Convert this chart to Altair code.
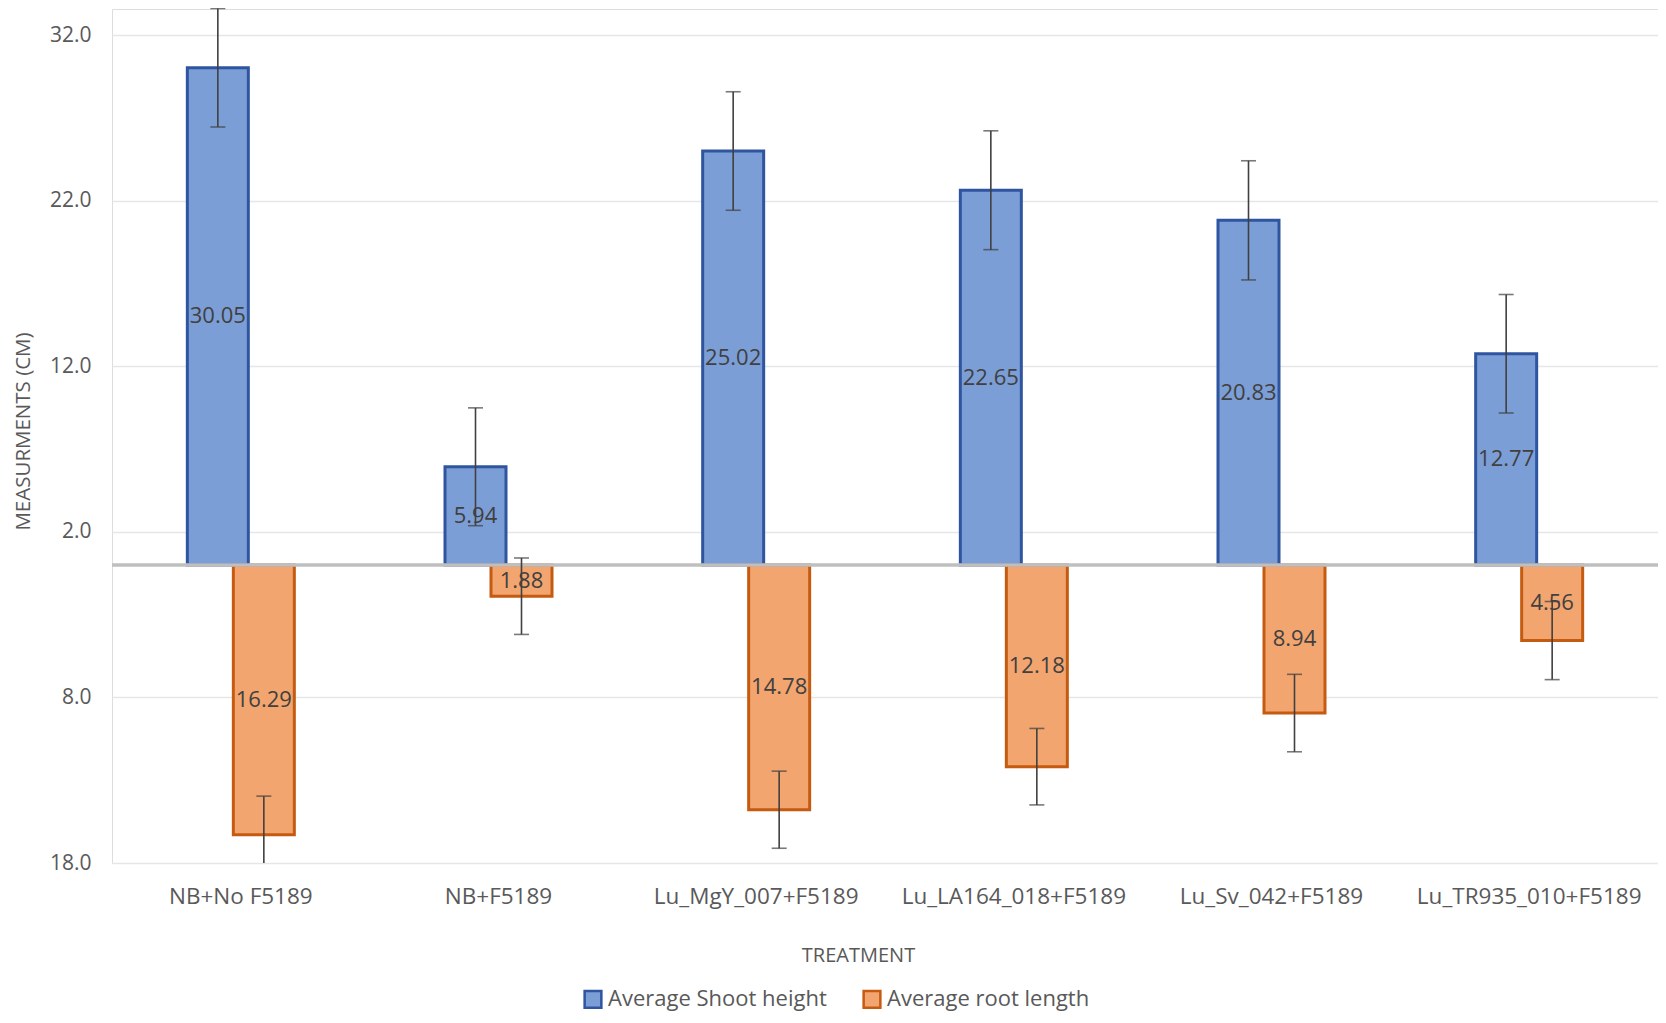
import altair as alt
import pandas as pd

FONT = "Open Sans"

categories = ["NB+No F5189", "NB+F5189", "Lu_MgY_007+F5189",
              "Lu_LA164_018+F5189", "Lu_Sv_042+F5189", "Lu_TR935_010+F5189"]
shoot_height = [30.05, 5.94, 25.02, 22.65, 20.83, 12.77]
shoot_err = [3.58, 3.56, 3.58, 3.59, 3.60, 3.58]
root_length = [16.29, 1.88, 14.78, 12.18, 8.94, 4.56]
root_err = [2.33, 2.31, 2.33, 2.31, 2.34, 2.36]
series_names = ["Average Shoot height", "Average root length"]
y_ticks = [-18, -8, 2, 12, 22, 32]

shoot_df = pd.DataFrame({"treatment": categories, "value": shoot_height,
                         "err": shoot_err, "series": series_names[0]})
shoot_df["signed"] = shoot_df["value"]
root_df = pd.DataFrame({"treatment": categories, "value": root_length,
                        "err": root_err, "series": series_names[1]})
root_df["signed"] = -root_df["value"]

for d in (shoot_df, root_df):
    d["lo"] = d["signed"] - d["err"]
    d["hi"] = d["signed"] + d["err"]
    d["mid"] = d["signed"] / 2

x_enc = alt.X(
    "treatment:N", sort=categories, title="TREATMENT",
    scale=alt.Scale(paddingInner=0, paddingOuter=0),
    axis=alt.Axis(labelAngle=0, labelFontSize=22.5, labelColor="#595959",
                  labelFont=FONT, labelPadding=22, labelLimit=0, ticks=False,
                  domain=False, grid=False, titleFont=FONT, titleFontSize=20,
                  titleColor="#595959", titleFontWeight="normal",
                  titleX=746, titleY=92, titleBaseline="middle"),
)

y_scale = alt.Scale(domain=[-18, 33.6], nice=False, zero=False)
y_axis = alt.Axis(values=y_ticks, labelExpr="format(abs(datum.value), '.1f')",
                  grid=True, gridColor="#E6E6E6", gridWidth=1.5, domain=False,
                  ticks=False, labelFont=FONT, labelFontSize=21,
                  labelColor="#595959", labelPadding=21,
                  title="MEASURMENTS (CM)", titleFont=FONT, titleFontSize=20.5,
                  titleColor="#595959", titleFontWeight="normal",
                  titleX=-89, titleY=422, titleBaseline="middle", titleAngle=270)

legend = alt.Legend(title=None, orient="none", legendX=470, legendY=979,
                    padding=0, direction="horizontal", symbolType="square",
                    symbolSize=280, symbolStrokeWidth=2.5, labelFont=FONT,
                    labelFontSize=22, labelColor="#595959", columnPadding=31,
                    labelOffset=4, labelLimit=0)
fill_scale = alt.Scale(domain=series_names, range=["#7C9ED6", "#F3A56F"])
stroke_scale = alt.Scale(domain=series_names, range=["#2F55A0", "#C55A11"])

OFFSET = 23


def layers(df, off, clip):
    base = alt.Chart(df)
    bars = base.mark_bar(xOffset=off, width=61, strokeWidth=3).encode(
        x=x_enc,
        y=alt.Y("signed:Q", scale=y_scale, axis=y_axis),
        y2=alt.datum(0),
        fill=alt.Fill("series:N", scale=fill_scale, legend=legend),
        stroke=alt.Stroke("series:N", scale=stroke_scale, legend=legend),
    )
    labels = base.mark_text(xOffset=off, font=FONT, fontSize=22,
                            color="#404040", baseline="middle").encode(
        x=x_enc,
        y=alt.Y("mid:Q", scale=y_scale, axis=y_axis),
        text=alt.Text("value:Q", format=".2f"),
    )
    rule = base.mark_rule(xOffset=off, color="#404040", strokeWidth=1.6,
                          clip=clip).encode(
        x=x_enc,
        y=alt.Y("lo:Q", scale=y_scale, axis=y_axis),
        y2="hi:Q",
    )
    cap_lo = base.mark_tick(xOffset=off, color="#404040", size=15,
                            thickness=1.6, clip=clip).encode(
        x=x_enc, y=alt.Y("lo:Q", scale=y_scale, axis=y_axis))
    cap_hi = base.mark_tick(xOffset=off, color="#404040", size=15,
                            thickness=1.6, clip=clip).encode(
        x=x_enc, y=alt.Y("hi:Q", scale=y_scale, axis=y_axis))
    return [bars, labels, rule, cap_lo, cap_hi]


zero_line = alt.Chart(pd.DataFrame({"zero": [0]})).mark_rule(
    color="#BFBFBF", strokeWidth=3.5).encode(
    y=alt.Y("zero:Q", scale=y_scale, axis=y_axis))

shoot_layers = layers(shoot_df, -OFFSET, False)
root_layers = layers(root_df, OFFSET, True)

chart = alt.layer(
    shoot_layers[0], root_layers[0], zero_line,
    shoot_layers[1], root_layers[1],
    shoot_layers[2], root_layers[2],
    shoot_layers[3], root_layers[3],
    shoot_layers[4], root_layers[4],
).properties(
    width=1546, height=854,
    padding={"left": 104, "top": 1, "right": 0, "bottom": 152},
    autosize=alt.AutoSizeParams(type="none"),
).configure_view(stroke=None).configure(background="white")

chart.save("out.html", embed_options={"renderer": "svg", "actions": False})
